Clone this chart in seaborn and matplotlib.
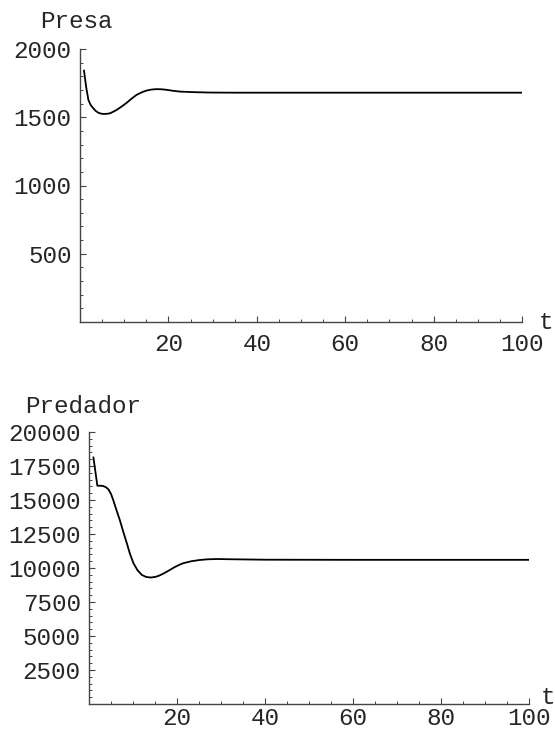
import numpy as np
import pandas as pd
import matplotlib
matplotlib.use("Agg")
import matplotlib.pyplot as plt
import seaborn as sns
from matplotlib.ticker import MultipleLocator, FixedLocator

# valores
t_presa = [0.9, 1.4, 1.9, 2.4, 3.0, 3.5, 4.1, 4.7, 5.3, 6.0, 6.8, 7.5, 8.3, 9.4, 10.6, 11.7, 12.8,
           14.0, 15.1, 16.2, 17.3, 18.4, 19.6, 21.0, 22.6, 25.6, 29.4, 35, 45, 60, 80, 100]
v_presa = [1843, 1720, 1627, 1590, 1566, 1548, 1534, 1527, 1524, 1525, 1529, 1540, 1554, 1578, 1607,
           1637, 1664, 1683, 1696, 1703, 1706, 1705, 1701, 1694, 1688, 1684, 1681, 1680, 1680, 1680, 1680, 1680]

t_pred = [1.0, 1.9, 2.6, 3.2, 3.8, 4.4, 5.0, 5.5, 6.2, 7.0, 7.8, 8.6, 9.3, 10.1, 11.0, 12.0, 13.0,
          14.0, 15.0, 15.8, 16.8, 17.7, 18.6, 19.5, 20.5, 21.4, 23.3, 25.2, 27.0, 29.0, 32.8, 40, 60, 80, 100]
v_pred = [18140, 16050, 16050, 16030, 15950, 15790, 15450, 15000, 14300, 13530, 12650, 11820, 11050, 10350,
          9850, 9490, 9340, 9300, 9340, 9420, 9570, 9730, 9900, 10070, 10230, 10350, 10500, 10590, 10640,
          10660, 10640, 10610, 10600, 10600, 10600]

x_ticks = [20, 40, 60, 80, 100]
presa_ticks = [500, 1000, 1500, 2000]
pred_ticks = [2500, 5000, 7500, 10000, 12500, 15000, 17500, 20000]

sns.set_style("ticks")
plt.rcParams['font.family'] = ['Liberation Mono', 'DejaVu Sans Mono']
plt.rcParams['font.size'] = 17.5

W, H = 555, 731
fig = plt.figure(figsize=(W / 100, H / 100), dpi=100)


def px_axes(left, right, top, bottom):
    return fig.add_axes([left / W, 1 - bottom / H, (right - left) / W, (bottom - top) / H])


def estilo(ax, ymax, yticks, yminor, xpad):
    ax.set_xlim(0, 100)
    ax.set_ylim(0, ymax)
    ax.xaxis.set_major_locator(FixedLocator(x_ticks))
    ax.xaxis.set_minor_locator(MultipleLocator(5))
    ax.yaxis.set_major_locator(FixedLocator(yticks))
    ax.yaxis.set_minor_locator(MultipleLocator(yminor))
    ax.set_xticklabels([str(v) for v in x_ticks])
    ax.set_yticklabels([str(v) for v in yticks])
    sns.despine(ax=ax)
    for s in ['left', 'bottom']:
        ax.spines[s].set_color('#444444')
        ax.spines[s].set_linewidth(1.0)
    ax.tick_params(which='major', direction='in', length=4, width=0.8, color='#444444', pad=6)
    ax.tick_params(which='minor', direction='in', length=2.5, width=0.7, color='#444444')
    ax.tick_params(axis='x', which='major', pad=xpad)
    ax.set_xlabel('')
    ax.set_ylabel('')
    ax.patch.set_alpha(0)


ax1 = px_axes(80, 522, 49, 322)
df1 = pd.DataFrame({'t': t_presa, 'v': v_presa})
sns.lineplot(data=df1, x='t', y='v', ax=ax1, color='black', linewidth=1.3)
estilo(ax1, 2000, presa_ticks, 100, 8)

ax2 = px_axes(89, 529, 432, 704)
df2 = pd.DataFrame({'t': t_pred, 'v': v_pred})
sns.lineplot(data=df2, x='t', y='v', ax=ax2, color='black', linewidth=1.3)
estilo(ax2, 20000, pred_ticks, 500, 2)

fig.text(40 / W, 1 - 28 / H, 'Presa', ha='left', va='baseline')
fig.text(25 / W, 1 - 413 / H, 'Predador', ha='left', va='baseline')
fig.text(539 / W, 1 - 322 / H, 't', ha='left', va='center')
fig.text(541 / W, 1 - 698 / H, 't', ha='left', va='center')

fig.savefig('out.png', dpi=100)
